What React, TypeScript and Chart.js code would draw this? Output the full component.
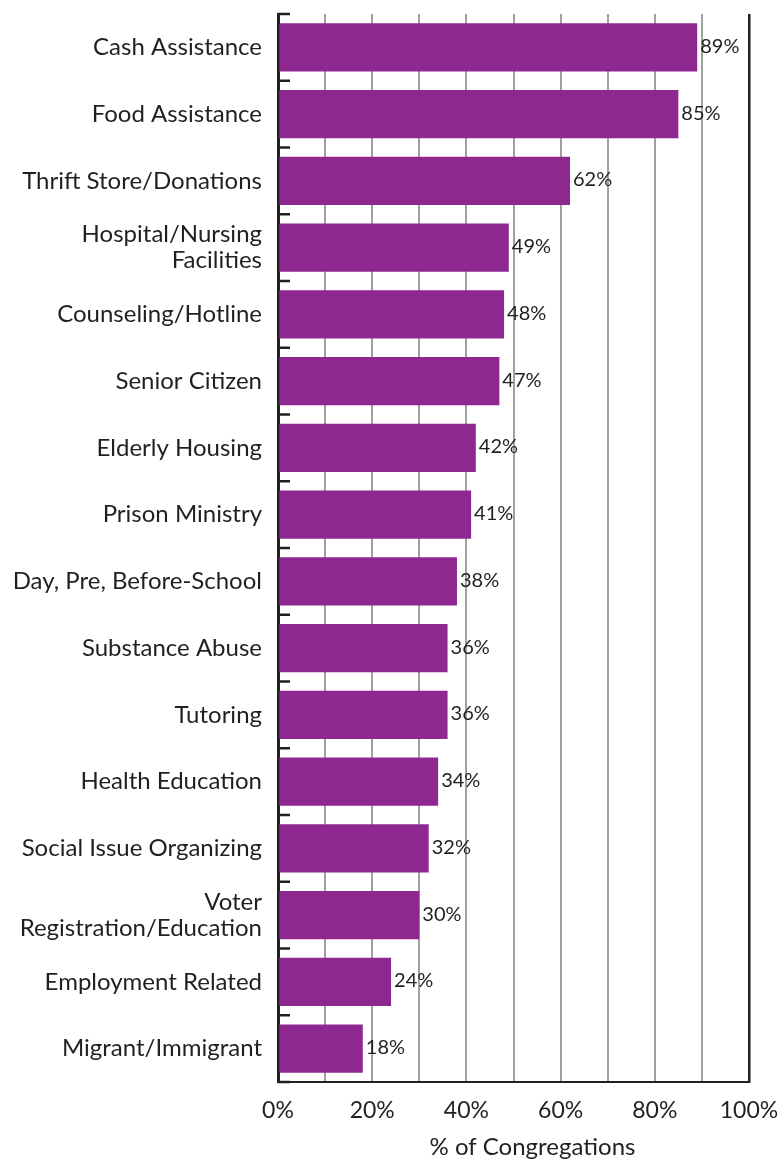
import React, { useEffect, useRef } from "react";
import { Chart, registerables } from "chart.js";

Chart.register(...registerables);

const categories: (string | string[])[] = [
  "Cash Assistance",
  "Food Assistance",
  "Thrift Store/Donations",
  ["Hospital/Nursing", "Facilities"],
  "Counseling/Hotline",
  "Senior Citizen",
  "Elderly Housing",
  "Prison Ministry",
  "Day, Pre, Before-School",
  "Substance Abuse",
  "Tutoring",
  "Health Education",
  "Social Issue Organizing",
  ["Voter", "Registration/Education"],
  "Employment Related",
  "Migrant/Immigrant",
];

const values: number[] = [89, 85, 62, 49, 48, 47, 42, 41, 38, 36, 36, 34, 32, 30, 24, 18];

const xTickValues: number[] = [0, 20, 40, 60, 80, 100];

const xTitle = "% of Congregations";

const FONT = "Lato, 'Open Sans', sans-serif";
const TEXT = "#231F20";
const BAR = "#8E278F";

const labelPlugin = {
  id: "barValueLabels",
  afterDatasetsDraw(chart: any) {
    const { ctx } = chart;
    const meta = chart.getDatasetMeta(0);
    ctx.save();
    ctx.font = `20px ${FONT}`;
    ctx.fillStyle = TEXT;
    ctx.textAlign = "left";
    ctx.textBaseline = "middle";
    meta.data.forEach((el: any, i: number) => {
      ctx.fillText(`${values[i]}%`, el.x + 3, el.y - 1);
    });
    ctx.restore();
  },
};

const boundaryTicks = {
  id: "boundaryTicks",
  afterDraw(chart: any) {
    const { ctx, chartArea } = chart;
    const y = chart.scales.y;
    const x = chart.scales.x;
    const n = categories.length;
    const left = x.getPixelForValue(0);
    const step = y.getPixelForValue(1) - y.getPixelForValue(0);
    ctx.save();
    ctx.strokeStyle = TEXT;
    ctx.lineWidth = 2.5;
    for (let i = 0; i <= n; i++) {
      const py = y.getPixelForValue(0) - step / 2 + i * step;
      ctx.beginPath();
      ctx.moveTo(left, py);
      ctx.lineTo(left + 12, py);
      ctx.stroke();
    }
    // axis title (slightly right of centre, as in the reference)
    ctx.font = `24px ${FONT}`;
    ctx.fillStyle = TEXT;
    ctx.textAlign = "center";
    ctx.textBaseline = "middle";
    ctx.fillText(xTitle, (chartArea.left + chartArea.right) / 2 + 19, x.bottom - 13);
    ctx.restore();
  },
};

export default function App() {
  const ref = useRef<HTMLCanvasElement | null>(null);
  useEffect(() => {
    if (!ref.current) return;
    const chart = new Chart(ref.current, {
      type: "bar",
      data: {
        labels: categories,
        datasets: [
          {
            data: values,
            backgroundColor: BAR,
            borderWidth: 0,
            barPercentage: 0.725,
            categoryPercentage: 1,
          },
        ],
      },
      options: {
        indexAxis: "y",
        animation: false,
        responsive: false,
        maintainAspectRatio: false,
        layout: { padding: { top: 14, right: 33, left: 0, bottom: 0 } },
        plugins: {
          legend: { display: false },
          tooltip: { enabled: false },
        },
        scales: {
          x: {
            type: "linear",
            min: 0,
            max: 100,
            afterBuildTicks: (scale: any) => {
              const t: any[] = [];
              for (let v = 0; v <= 100; v += 10) t.push({ value: v });
              scale.ticks = t;
            },
            ticks: {
              autoSkip: false,
              maxRotation: 0,
              padding: 15,
              color: TEXT,
              font: { family: FONT, size: 23 },
              callback: (v: any) => (xTickValues.includes(Number(v)) ? `${v}%` : ""),
            },
            grid: {
              drawTicks: false,
              color: (c: any) =>
                c.tick && (c.tick.value === 0 || c.tick.value === 100) ? TEXT : "#A0A0A0",
              lineWidth: (c: any) =>
                c.tick && (c.tick.value === 0 || c.tick.value === 100) ? 2.5 : 2,
            },
            border: { display: true, color: TEXT, width: 2 },
            title: { display: false },
            afterFit: (scale: any) => {
              scale.height = 78;
              scale.paddingLeft = 0;
              scale.paddingRight = 0;
            },
          },
          y: {
            type: "category",
            ticks: {
              autoSkip: false,
              padding: 16,
              color: TEXT,
              font: { family: FONT, size: 24, lineHeight: 1.08 },
            },
            grid: { display: false, drawTicks: false },
            border: { display: true, color: TEXT, width: 3 },
            afterFit: (scale: any) => {
              scale.width = 278;
              scale.paddingTop = 0;
              scale.paddingBottom = 0;
            },
          },
        },
      },
      plugins: [labelPlugin, boundaryTicks],
    });
    return () => chart.destroy();
  }, []);
  return (
    <div style={{ position: "absolute", left: 0, top: 0, width: 782, height: 1160, background: "#fff" }}>
      <canvas ref={ref} width={782} height={1160} style={{ width: 782, height: 1160 }} />
    </div>
  );
}
